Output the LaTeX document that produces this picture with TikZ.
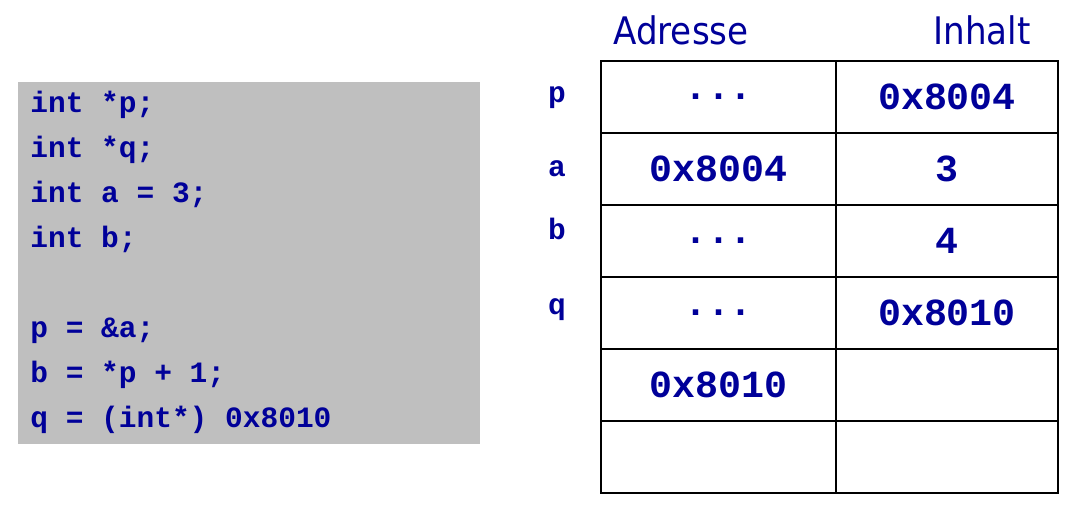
\documentclass[tikz,border=0pt]{standalone}
\usepackage{fontspec}
\newfontfamily\codefont{Liberation Mono}
\newfontfamily\headfont{DejaVu Sans Condensed}
\definecolor{ptrblue}{RGB}{0,0,153}
\definecolor{codegray}{RGB}{191,191,191}
\def\codesize{\fontsize{16.8}{18}\selectfont}
\def\tablesize{\fontsize{21.8}{24}\selectfont}
\def\more{...}

\begin{document}
\begin{tikzpicture}[x=0.02cm,y=-0.02cm,text=ptrblue]
  \tikzstyle{codebox}=[fill=codegray,minimum width=9.24cm,minimum height=7.24cm,inner sep=0pt]
  \tikzstyle{codeline}=[anchor=base west,inner sep=0pt,font=\codesize\codefont\bfseries]
  \tikzstyle{cell}=[draw=black,line width=0.04cm,minimum height=1.44cm,inner sep=0pt,font=\tablesize\codefont\bfseries]
  \tikzstyle{varname}=[anchor=base,inner sep=0pt,font=\codesize\codefont\bfseries]
  \tikzstyle{head}=[anchor=base,inner sep=0pt,font=\fontsize{21.6}{24}\selectfont\headfont]

  \useasboundingbox (0,0) rectangle (1086,516);

  % code
  \node[codebox] (code) at (249,263) {};
  \foreach \name/\y/\txt in {1/113/{int *p;}, 2/158/{int *q;}, 3/203/{int a = 3;},
      4/248/{int b;}, 5/338/{p = \&a;}, 6/383/{b = *p + 1;}, 7/428/{q = (int*) 0x8010}}
    \node[codeline] (L-\name) at (30,\y) {\txt};

  % memory
  \node[head] (adr) at (681,45) {Adresse};
  \node[head] (inh) at (982,45) {Inhalt};

  \foreach \r/\adr/\inh in {1/\more/0x8004, 2/0x8004/3, 3/\more/4,
      4/\more/0x8010, 5/0x8010/{}, 6/{}/{}} {
    \node[cell,minimum width=4.7cm] (A-\r) at (718.5,25+72*\r) {\adr};
    \node[cell,minimum width=4.44cm] (I-\r) at (947,25+72*\r) {\inh};
  }

  \foreach \name/\y in {p/103, a/177, b/240, q/315}
    \node[varname] (V-\name) at (557,\y) {\name};

\end{tikzpicture}
\end{document}
